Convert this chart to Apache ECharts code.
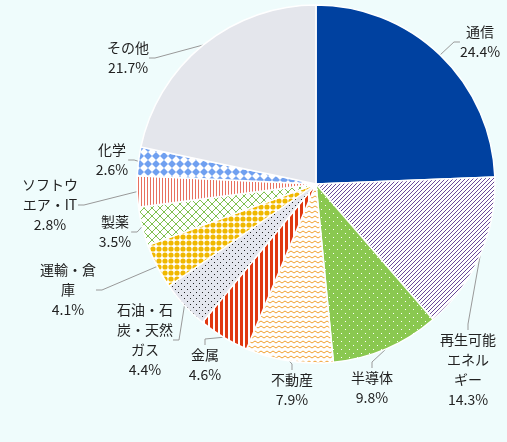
<!DOCTYPE html><html><head><meta charset="utf-8"><script src="https://cdn.jsdelivr.net/npm/echarts@6/dist/echarts.min.js"></script>
<style>html,body{margin:0;background:#effcfc}#c{width:507px;height:442px}</style></head><body><div id="c"></div><script>
const categories=['通信','再生可能\nエネル\nギー','半導体','不動産','金属','石油・石\n炭・天然\nガス','運輸・倉\n庫','製薬','ソフトウ\nエア・IT','化学','その他'];
const values=[24.4,14.3,9.8,7.9,4.6,4.4,4.1,3.5,2.8,2.6,21.7];
const labelPos=[[480,42],[468,370],[372,388],[292,390],[205,365],[145,340],[68,290],[115,232],[50,205],[112,160],[128,58]];
function pat(bg,draw,w,h){const c=document.createElement('canvas');c.width=w;c.height=h;const g=c.getContext('2d');g.fillStyle=bg;g.fillRect(0,0,w,h);draw(g);return {image:c,repeat:'repeat'};}
const fills=[
 '#0041a0',
 pat('#fff',g=>{g.strokeStyle='#6a4a9a';g.lineWidth=1;for(let i=-8;i<16;i+=4){g.beginPath();g.moveTo(i,8);g.lineTo(i+8,0);g.stroke();}},8,8),
 pat('#8ac850',g=>{g.fillStyle='#fff';g.fillRect(1,1,1,1);g.fillRect(5,5,1,1);},8,8),
 pat('#fff',g=>{g.strokeStyle='#f0a030';g.beginPath();g.moveTo(0,3);g.lineTo(3,1);g.lineTo(6,3);g.stroke();},6,5),
 pat('#fff',g=>{g.fillStyle='#e03810';g.fillRect(0,0,3,5);},5,5),
 pat('#e4e6ee',g=>{g.fillStyle='#222';g.fillRect(1,1,1,1);g.fillRect(4,4,1,1);},6,6),
 pat('#fff',g=>{g.fillStyle='#f0b800';g.beginPath();g.arc(3,3,2.6,0,7);g.fill();},6,6),
 pat('#fff',g=>{g.strokeStyle='#80c050';g.beginPath();g.moveTo(0,0);g.lineTo(8,8);g.moveTo(8,0);g.lineTo(0,8);g.stroke();},8,8),
 pat('#fff',g=>{g.fillStyle='#e87060';g.fillRect(0,0,1,4);},3,4),
 pat('#fff',g=>{g.fillStyle='#70a0f0';g.beginPath();g.moveTo(4,0);g.lineTo(8,4);g.lineTo(4,8);g.lineTo(0,4);g.fill();},8,8),
 '#e4e6ec'];
const chart=echarts.init(document.getElementById('c'));
chart.setOption({backgroundColor:'#effcfc',animation:false,series:[{type:'pie',center:[316,184],radius:179,startAngle:90,clockwise:true,
 data:categories.map((n,i)=>({name:n,value:values[i],itemStyle:{color:fills[i]}})),
 itemStyle:{borderColor:'#fff',borderWidth:1.5},
 label:{formatter:p=>p.name+'\n'+p.value.toFixed(1)+'%',fontSize:14,color:'#222',lineHeight:20,overflow:'none',fontFamily:'Noto Sans CJK JP'},
 labelLine:{length:10,length2:6,lineStyle:{color:'#999'}},
 labelLayout:p=>({x:labelPos[p.dataIndex][0],y:labelPos[p.dataIndex][1],align:'center',verticalAlign:'middle'})}]});
</script></body></html>
